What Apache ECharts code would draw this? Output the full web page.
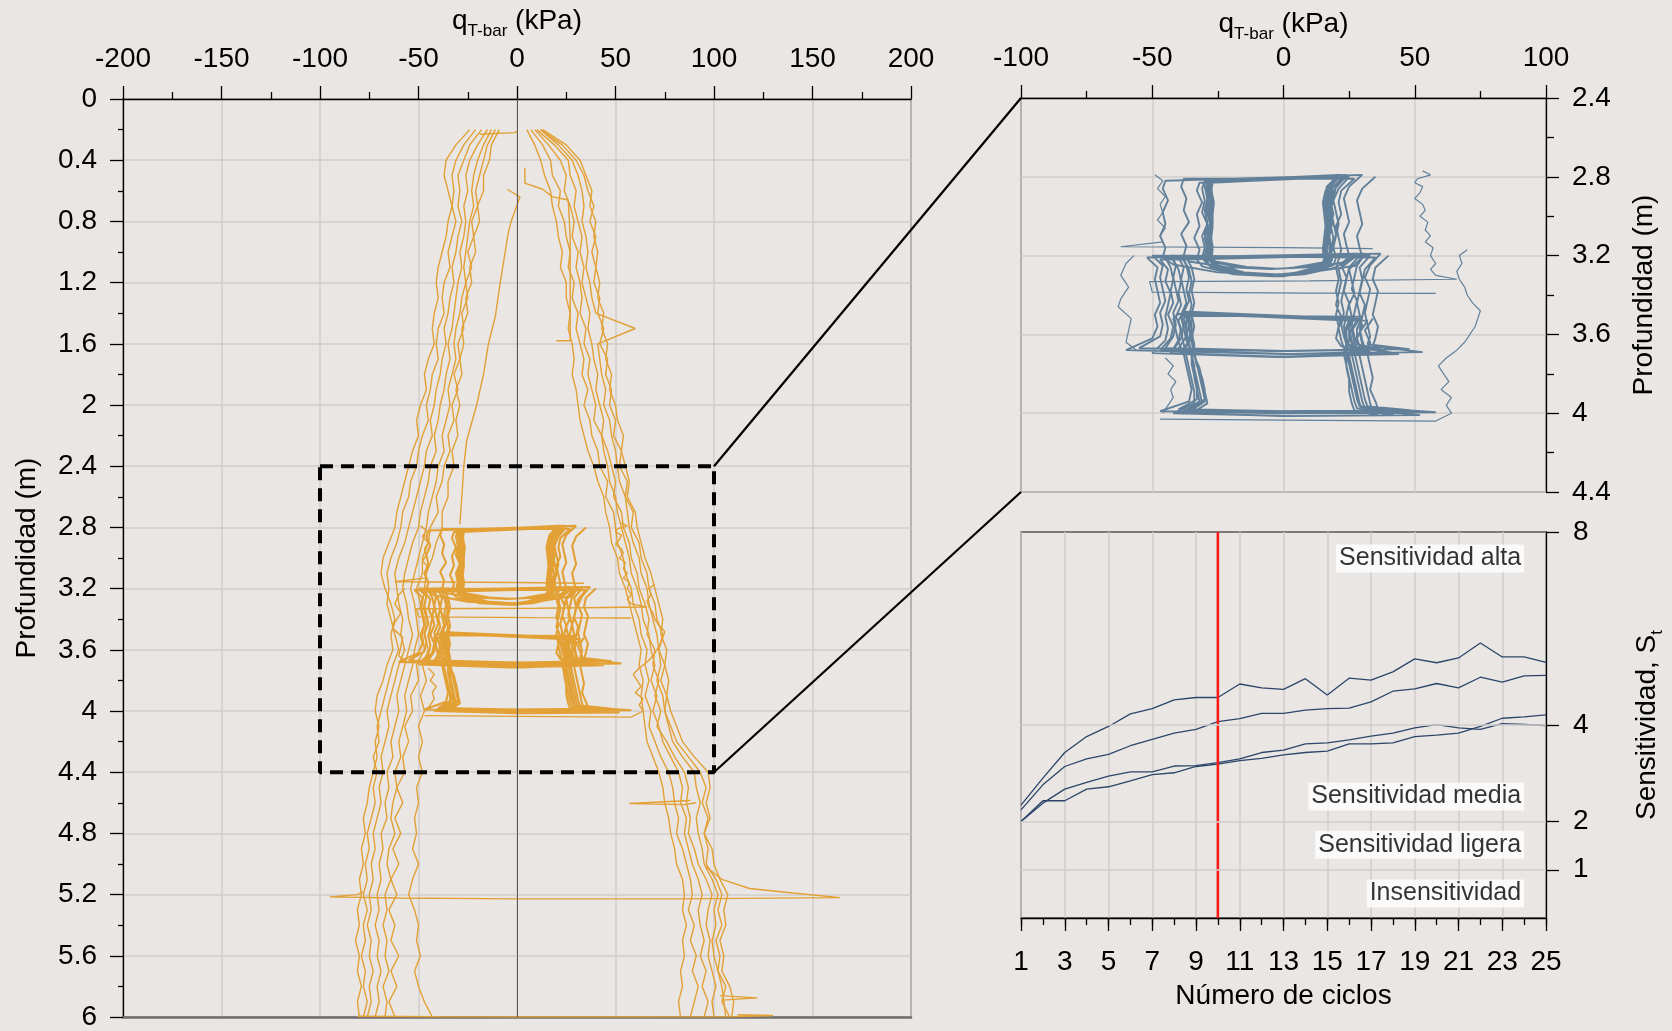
<!DOCTYPE html>
<html><head><meta charset="utf-8">
<script src="https://cdn.jsdelivr.net/npm/echarts/dist/echarts.min.js"></script>
<style>html,body{margin:0;padding:0;background:#e9e6e3;}#chart{width:1672px;height:1031px;}</style>
</head><body><div id="chart"></div>
<script>
// ---------------- DATA ----------------
// Depth grid (m) for the full T-bar profiles
const depthGrid = [0.2,0.3,0.4,0.5,0.6,0.7,0.8,0.9,1.0,1.1,1.2,1.3,1.4,1.5,1.6,1.7,1.8,1.9,2.0,2.1,2.2,2.3,2.4,2.5,2.6,2.7,2.8,2.9,3.0,3.1,3.2,3.3,3.4,3.5,3.6,3.7,3.8,3.9,4.0,4.1,4.2,4.3,4.4,4.5,4.6,4.7,4.8,4.9,5.0,5.1,5.2,5.3,5.4,5.5,5.6,5.7,5.8,5.9,6.0];
// Penetration profiles (q, kPa)
const penR1 = [5,9,12,14,17,18,20,21,23,22, 25,25,27,26,28,29,28,30,31,32, 34,36,39,41,44,45,47,48,51,52, 55,57,59,61,63,62,64,63,64,65, 66,69,72,74,75,77,78,80,81,84, 85,84,86,84,85,83,84,82,83];
const penR2 = [7,13,17,18,22,21,24,25,27,26, 29,28,31,30,32,34,33,36,34,37, 38,41,42,46,45,49,50,51,54,55, 58,59,62,63,66,65,67,65,68,67, 70,73,77,79,80,82,81,84,86,88, 89,87,90,88,91,89,92,90,88];
const penR3 = [9,16,22,25,24,27,29,28,31,30, 32,33,32,35,34,37,36,38,40,39, 43,44,46,47,50,51,53,55,57,58, 61,63,64,67,68,70,68,71,69,72, 74,78,82,84,83,86,85,87,89,92, 94,92,93,95,93,96,94,97,95];
const penR4 = [10,19,26,27,30,29,31,33,32,34, 33,35,37,36,38,39,41,40,42,44, 43,46,48,50,49,53,54,57,58,61, 62,65,67,66,70,69,72,70,73,71, 76,80,85,87,86,88,87,90,92,96, 99,97,96,98,97,99,101,99,100];
const penR5 = [12,21,28,31,33,34,33,35,36,35, 37,38,40,60,41,42,43,45,44,47, 48,50,51,52,55,56,57,59,62,63, 66,67,69,71,72,73,71,74,75,77, 79,84,90,91,93,91,92,94,95,99, 102,100,101,99,100,102,104,105,106];
const penR6 = [12,23,30,34,36,39,37,40,38,40, 39,42,41,44,42,46,45,48,47,50, 49,53,52,56,55,59,58,62,63,66, 67,70,71,74,72,75,73,76,75,78, 81,87,93,96,94,97,95,97,96,101, 104,102,104,101,103,102,106,104,108];
const penR7 = [13,25,32,35,38,37,40,39,41,40, 42,41,44,43,46,45,48,47,50,51, 54,53,55,57,56,60,61,63,65,68, 70,72,74,73,76,75,77,76,78,81, 84,90,97,98,96,98,95,99,100,103, 107,105,106,103,105,104,108,110,109];
// Extraction profiles (q, kPa)
const extL1 = [-24,-31,-36,-37,-35,-33,-35,-36,-38,-40, -41,-40,-42,-43,-42,-45,-47,-46,-49,-51, -50,-53,-55,-57,-59,-61,-62,-65,-68,-69, -67,-64,-62,-64,-63,-66,-68,-71,-72,-70, -72,-71,-73,-75,-76,-78,-77,-79,-78,-80, -79,-81,-80,-82,-80,-81,-79,-81,-80];
const extL2 = [-21,-27,-31,-33,-32,-33,-31,-33,-35,-34, -37,-38,-37,-40,-41,-40,-43,-44,-46,-45, -48,-50,-51,-54,-55,-58,-59,-61,-64,-66, -65,-66,-64,-62,-60,-63,-65,-67,-69,-71, -70,-73,-71,-73,-72,-74,-76,-75,-77,-76, -78,-76,-78,-77,-79,-77,-78,-76,-78];
const extL3 = [-18,-24,-27,-30,-29,-30,-28,-30,-31,-33, -32,-34,-35,-37,-36,-38,-39,-41,-42,-44, -43,-46,-47,-49,-51,-53,-55,-57,-60,-62, -61,-60,-58,-59,-57,-60,-62,-64,-66,-65, -67,-69,-68,-70,-69,-71,-73,-72,-74,-73, -75,-74,-76,-74,-75,-73,-75,-74,-76];
const extL4 = [-15,-20,-24,-26,-25,-27,-26,-27,-29,-28, -30,-31,-32,-33,-35,-34,-36,-37,-39,-40, -42,-41,-44,-45,-47,-49,-50,-53,-55,-57, -58,-56,-55,-53,-55,-57,-59,-61,-60,-62, -64,-63,-66,-65,-67,-66,-69,-68,-70,-69, -71,-70,-72,-70,-71,-69,-71,-70,-72];
const extL5 = [-13,-17,-20,-22,-23,-22,-24,-25,-26,-27, -26,-28,-29,-31,-32,-31,-33,-35,-34,-36, -38,-37,-40,-41,-43,-45,-46,-48,-50,-52, -54,-52,-51,-50,-52,-53,-55,-57,-56,-58, -60,-59,-62,-61,-63,-64,-62,-65,-66,-64, -67,-66,-68,-66,-67,-65,-68,-66,-67];
const extL6 = [-11,-15,-17,-19,-21,-20,-23,-22,-25,-23, -26,-25,-28,-27,-30,-29,-32,-30,-33,-32, -35,-34,-37,-38,-41,-40,-44,-45,-48,-48, -51,-49,-47,-48,-47,-51,-50,-54,-53,-57, -55,-58,-57,-61,-58,-62,-59,-63,-60,-64, -61,-65,-62,-64,-60,-64,-61,-65,-62];
const extL7 = [-9,-13,-14,-17,-17,-20,-19,-22,-21,-24, -23,-26,-25,-28,-27,-29,-28,-31,-29,-31, -30,-33,-32,-35,-35,-38,-38,-41,-43,-46, -47,-48,-46,-47,-45,-48,-46,-49,-47,-50, -48,-50,-48,-51,-50,-52,-51,-53,-50,-53, -55,-52,-50,-51,-49,-52,-50,-47,-43];
// Partial / special traces [q, depth]
const extInner = [[-5,0.59],[1.5,0.64],[-1,0.73],[-3,0.8],[-4.5,0.88],[-6,1.0],[-8.5,1.2],[-11,1.42],[-14.5,1.6],[-17,1.8],[-20.5,2.0],[-25.5,2.23],[-27,2.4],[-28,2.6],[-29,2.78]];
const penPartial = [[4,0.45],[4,0.55],[13,0.59],[18,0.64],[26,0.66],[27,0.9],[27,1.2],[27,1.5],[27,1.58],[20,1.58]];
const topLink = [[-19,0.23],[-1,0.22],[0,0.21]];
const spike52 = [[96,5.02],[104,5.1],[118,5.16],[140,5.19],[164,5.22],[80,5.228],[0,5.228],[-60,5.222],[-95,5.215],[-81,5.2],[-78,5.18]];
const bottom60 = [[-81,5.995],[-40,5.998],[0,6.0],[60,6.0],[110,5.998],[130,5.99],[112,5.985]];
const hook46 = [[88,4.585],[57,4.605],[85,4.612],[91,4.6]];
const kink59 = [[103,5.86],[122,5.875],[104,5.89]];
// Cyclic test: depth paths and q per cycle
const upperDepthsA = [2.80,2.86,2.92,2.98,3.04,3.10,3.16,3.21, 3.25,3.285,3.297,3.285,3.245, 3.21,3.16,3.10,3.04,2.98,2.92,2.86, 2.82];
const upperDepthsB = [2.79,2.85,2.91,2.97,3.03,3.09,3.15,3.20, 3.235,3.26,3.268,3.258,3.23, 3.20,3.15,3.09,3.03,2.97,2.91,2.85, 2.81];
const upperDepthsC = [2.81,2.87,2.93,2.99,3.05,3.11,3.17,3.22, 3.26,3.295,3.305,3.295,3.255, 3.22,3.17,3.11,3.05,2.99,2.93,2.87, 2.83];
const upperPathIdx = [0,1,2,0,1,2,0,1,2,0,1,2];
const upperLoops = [
 [35,30,28,29,30,28,29,30, 28,10,-5,-25,-42, -46,-45,-47,-45,-46,-44,-46, -45],
 [30,25,23,24,25,23,24,25, 23,9,-5,-22,-36, -38,-37,-39,-36,-38,-37,-39, -38],
 [27,22,21,22,20,21,22,21, 20,8,-4,-19,-31, -33,-32,-34,-32,-33,-31,-33, -32],
 [25,21,19,20,21,20,19,20, 19,8,-4,-18,-29, -31,-30,-31,-29,-31,-30,-31, -30],
 [24,20,19,18,19,20,19,18, 17,7,-4,-17,-28, -30,-29,-30,-29,-30,-29,-30, -30],
 [23,19,18,19,18,19,18,18.5, 17,7,-3,-17,-28, -29.5,-29,-30,-29,-29.5,-29,-29.5, -29],
 [23,18.5,17.5,18,18.5,17.5,18,18, 17,6,-3,-16,-27, -29,-28.5,-29,-28,-29,-28.5,-29, -29],
 [22,18,17,17.5,18,17,17.5,17.5, 16,6,-2,-16,-27, -28.5,-28,-29,-28,-28.5,-28,-28.5, -28.5],
 [22,17.5,16.5,17,17.5,17,16.5,17, 16,5,-2,-15,-26, -28,-27.5,-28.5,-27.5,-28,-27.5,-28, -28],
 [21,17,16,16.5,17,16.5,16,16.5, 15,5,-1,-15,-26, -28,-27.5,-28,-27,-28,-27.5,-28, -27.5],
 [21,16.5,15.5,16,16.5,16,15.5,16, 15,4,-1,-14,-26, -27.5,-27,-28,-27,-27.5,-27,-27.5, -27.5],
 [20,16,15,15.5,16,15.5,15,15.5, 14,4,0,-14,-25, -27.5,-27,-27.5,-27,-27,-26.5,-27.5, -27]
];
const midDepthsA = [3.20,3.26,3.32,3.38,3.44,3.50,3.56,3.62,3.66,3.69,3.70,3.68,3.62,3.56,3.50,3.44,3.38,3.32,3.26,3.21];
const midDepthsB = [3.19,3.25,3.31,3.37,3.43,3.49,3.55,3.61,3.65,3.675,3.685,3.67,3.61,3.55,3.49,3.43,3.37,3.31,3.25,3.20];
const midDepthsC = [3.21,3.27,3.33,3.39,3.45,3.51,3.57,3.63,3.67,3.70,3.715,3.695,3.63,3.57,3.51,3.45,3.39,3.33,3.27,3.22];
const midPathIdx = [0,1,2,0,1,2,0,1,2,0];
const midLoops = [
 [40,35,34,36,35,34,36,35,34, 53,0,-60, -50,-48,-49,-47,-48,-49,-48, -52],
 [37,33,31,33,32,31,32,33,32, 48,3,-55, -47,-46,-47,-45,-46,-47,-46, -50],
 [35,31,30,29,31,30,29,30,31, 44,-3,-50, -45,-44,-45,-44,-43,-45,-44, -47],
 [33,29,30,29,28,29,30,28,29, 40,5,-47, -43,-42,-44,-42,-43,-42,-43, -45],
 [31,28,27,26,28,27,26,27,28, 37,-5,-45, -42,-41,-42,-40,-41,-42,-41, -43],
 [30,25,26,27,25,26,25,26,27, 35,2,-43, -40,-39,-41,-39,-40,-39,-40, -42],
 [29,25,24,23,25,24,23,24,25, 33,-2,-42, -39,-38,-39,-37,-38,-39,-38, -40],
 [28,22,24,23,22,23,22,23,24, 31,4,-40, -37,-36,-38,-36,-37,-36,-37, -39],
 [27,21,22,21,20,22,21,22,23, 30,-4,-39, -36,-35,-36,-35,-36,-35,-36, -38],
 [26,20,21,20,21,20,21,20,22, 29,1,-38, -35,-34,-35,-34,-35,-34,-35, -37]
];
const lowDepthsA = [3.52,3.58,3.64,3.70,3.76,3.82,3.88,3.94,3.975,3.995,4.0,3.99,3.94,3.88,3.82,3.76,3.70,3.64,3.58,3.52,3.495];
const lowDepthsB = [3.53,3.59,3.65,3.71,3.77,3.83,3.89,3.95,3.985,4.01,4.015,4.0,3.95,3.89,3.83,3.77,3.71,3.65,3.59,3.53,3.505];
const lowDepthsC = [3.51,3.57,3.63,3.69,3.75,3.81,3.87,3.93,3.965,3.985,3.99,3.98,3.93,3.87,3.81,3.75,3.69,3.63,3.57,3.51,3.485];
const lowPathIdx = [0,1,2,0,1,2,0,1];
const lowLoops = [
 [34,31,33,32,33,34,33,35,36, 58,5,-47, -36,-35,-36,-37,-38,-40,-41,-42, -40],
 [32,29,30,29,30,31,32,33,34, 52,3,-42, -34,-34,-35,-36,-37,-38,-39,-40, -39],
 [30,28,28,27,28,29,30,31,32, 48,0,-40, -33,-33,-34,-35,-35,-37,-38,-39, -38],
 [29,26,27,26,27,28,29,30,31, 45,-2,-38, -32,-33,-34,-34,-35,-36,-37,-38, -37],
 [28,25,26,25,26,27,28,29,30, 42,4,-37, -31,-32,-33,-34,-35,-36,-37,-37, -36],
 [27,25,25,24,25,26,27,28,29, 40,-4,-36, -30,-31,-32,-33,-34,-35,-36,-36, -36],
 [26,24,24,23,24,25,26,27,28, 38,2,-36, -30,-30,-31,-33,-34,-35,-35,-36, -35],
 [25,23,24,24,24,25,25,26,27, 36,-1,-35, -29,-30,-31,-32,-34,-34,-35,-35, -35]
];
const cycPenA = [[53,2.77],[56,2.79],[51,2.81],[50,2.83],[53,2.85],[52,2.88],[50,2.91],[53,2.94],[54,2.97],[52,3.0],[55,3.03],[54,3.07],[56,3.1],[54,3.13],[57,3.16],[56,3.2],[58,3.24],[56,3.27],[58,3.3],[66,3.32],[10,3.328],[-51,3.332],[-50,3.385],[10,3.39],[58,3.392]];
const cycPenB = [[70,3.17],[67,3.2],[68,3.24],[66,3.28],[67,3.32],[69,3.36],[70,3.4],[72,3.44],[75,3.48],[74,3.52],[73,3.56],[71,3.6],[69,3.64],[66,3.68],[62,3.72],[59,3.76],[61,3.8],[63,3.84],[60,3.88],[64,3.92],[62,3.96],[64,4.0],[58,4.04],[0,4.035],[-47,4.03]];
const cycExtA = [[-49,2.79],[-46,2.82],[-48,2.86],[-45,2.9],[-47,2.94],[-46,2.98],[-48,3.02],[-45,3.06],[-47,3.1],[-46,3.13],[-62,3.155],[0,3.16],[34,3.165]];
const cycExtB = [[-57,3.2],[-60,3.24],[-62,3.3],[-59,3.36],[-62,3.42],[-63,3.46],[-58,3.52],[-59,3.58],[-60,3.64],[-56,3.68]];
const cycExtC = [[-45,3.72],[-42,3.76],[-44,3.8],[-41,3.84],[-43,3.88],[-42,3.92],[-44,3.96],[-46,4.0]];
// Zoom window of the detail panel
const zoomWindowQ = [-100, 100];
const zoomWindowDepth = [2.4, 4.4];
// Sensitivity vs number of cycles
const cycles = ['1','2','3','4','5','6','7','8','9','10','11','12','13','14','15','16','17','18','19','20','21','22','23','24','25'];
const stA = [2.34,2.90,3.43,3.76,3.97,4.23,4.34,4.52,4.57,4.57,4.85,4.77,4.74,4.96,4.62,4.97,4.93,5.10,5.37,5.29,5.39,5.70,5.41,5.41,5.30];
const stB = [2.24,2.76,3.14,3.30,3.39,3.57,3.70,3.83,3.91,4.07,4.13,4.24,4.24,4.31,4.34,4.35,4.48,4.70,4.75,4.86,4.77,4.99,4.89,5.02,5.03];
const stC = [2.00,2.43,2.43,2.67,2.72,2.84,2.97,3.01,3.14,3.19,3.26,3.31,3.38,3.43,3.46,3.61,3.61,3.63,3.76,3.79,3.83,3.97,4.14,4.17,4.21];
const stD = [2.00,2.38,2.67,2.81,2.94,3.03,3.03,3.15,3.16,3.22,3.30,3.43,3.48,3.61,3.63,3.69,3.77,3.83,3.94,4.01,3.94,3.91,4.03,4.01,3.99];
const sensTicks = [1,2,4,8];
const sensRange = [0, 8];
const redLineCycle = '10';
const zoneLabels = [['24',7.45,'Sensitividad alta'],['24',2.52,'Sensitividad media'],['24',1.52,'Sensitividad ligera'],['24',0.51,'Insensitividad']];

// ---------------- CHART ----------------
const FONT = "'Liberation Sans', Arial, sans-serif";
const ORANGE = '#e2a035';
const BLUE = '#62809a';
const NAVY = '#2c456a';
const GRIDC = '#d0cdcb';

const profile = qs => qs.map((q, i) => [q, depthGrid[i]]);
function loops(list, paths, idx) {
  const out = [];
  list.forEach((qs, k) => { const dp = paths[idx[k]]; qs.forEach((q, i) => out.push([q, dp[i]])); });
  return out;
}
const upperCyc = loops(upperLoops, [upperDepthsA, upperDepthsB, upperDepthsC], upperPathIdx);
const midCyc = loops(midLoops, [midDepthsA, midDepthsB, midDepthsC], midPathIdx);
const lowCyc = loops(lowLoops, [lowDepthsA, lowDepthsB, lowDepthsC], lowPathIdx);
const cycLoopSets = [upperCyc, midCyc, lowCyc];
const cycTraceSets = [cycPenA, cycPenB, cycExtA, cycExtB, cycExtC];

const series = [];
function addLine(data, color, width, xi, yi, z) {
  series.push({type:'line', xAxisIndex:xi, yAxisIndex:yi, data, symbol:'none', showSymbol:false,
    silent:true, animation:false, z:z||3, lineStyle:{color, width}});
}
// Zero reference line in main panel
series.push({type:'line', xAxisIndex:0, yAxisIndex:0, data:[], silent:true, z:2,
  markLine:{silent:true, symbol:['none','none'], label:{show:false}, animation:false,
    lineStyle:{color:'#5a5a5a', width:1, type:'solid'}, data:[{xAxis:0}]}});
[penR1,penR2,penR3,penR4,penR5,penR6,penR7,extL1,extL2,extL3,extL4,extL5,extL6,extL7].forEach(a => addLine(profile(a), ORANGE, 1.4, 0, 0));
[extInner, penPartial, topLink, spike52, bottom60, hook46, kink59].forEach(a => addLine(a, ORANGE, 1.4, 0, 0));
cycTraceSets.forEach(a => addLine(a, ORANGE, 1.4, 0, 0));
cycLoopSets.forEach(a => addLine(a, ORANGE, 2.1, 0, 0));
// Dashed zoom window
const q0 = zoomWindowQ[0], q1 = zoomWindowQ[1], d0 = zoomWindowDepth[0], d1 = zoomWindowDepth[1];
series.push({type:'line', xAxisIndex:0, yAxisIndex:0, data:[[q0,d0],[q1,d0],[q1,d1],[q0,d1],[q0,d0]], symbol:'none',
  silent:true, z:6, lineStyle:{color:'#000', width:4, type:[13,8]}});
// Detail panel
cycTraceSets.forEach(a => addLine(a, BLUE, 1.2, 2, 1));
cycLoopSets.forEach(a => addLine(a, BLUE, 1.9, 2, 1));
// Sensitivity panel
series.push({type:'line', xAxisIndex:3, yAxisIndex:2, data:[], silent:true, z:1,
  markLine:{silent:true, symbol:['none','none'], label:{show:false}, animation:false,
    lineStyle:{color:GRIDC, width:1.5, type:'solid'}, data:sensTicks.slice(0,3).map(v => ({yAxis:v}))}});
[stA, stB, stC, stD].forEach(a => series.push({type:'line', xAxisIndex:3, yAxisIndex:2, data:a, symbol:'none',
  showSymbol:false, silent:true, z:3, lineStyle:{color:NAVY, width:1.3}}));
series.push({type:'line', xAxisIndex:3, yAxisIndex:2, data:[[redLineCycle, sensRange[0]],[redLineCycle, sensRange[1]]],
  symbol:'none', silent:true, z:4, lineStyle:{color:'#ff1a1a', width:2.6}});
series.push({type:'scatter', xAxisIndex:3, yAxisIndex:2, symbolSize:0, silent:true, z:6,
  data: zoneLabels.map(z => ({value:[z[0], z[1]], label:{formatter:z[2]}})),
  label:{show:true, position:'left', distance:0, fontSize:25, fontFamily:FONT, color:'#000',
    backgroundColor:'#ffffff', padding:[1,3,0,3], lineHeight:27}});

const lab = {fontSize:28, fontFamily:FONT, color:'#000'};
const blk = {color:'#000', width:1.3};
const depthFmt = v => String(parseFloat(v.toFixed(1)));
const richQ = {
  m:{fontSize:28, fontFamily:FONT, color:'#000', lineHeight:38, verticalAlign:'middle'},
  s:{fontSize:17, fontFamily:FONT, color:'#000', verticalAlign:'bottom'}
};
const qName = '{m|q}{s|T-bar}{m| (kPa)}';

const option = {
  backgroundColor:'#e9e6e3',
  animation:false,
  textStyle:{fontFamily:FONT},
  grid:[
    {left:123, top:99, width:788, height:920, show:true, borderColor:'#111', borderWidth:1.2, backgroundColor:'transparent'},
    {left:1021, top:98, width:525, height:394, show:true, borderColor:'#111', borderWidth:1.2, backgroundColor:'transparent'},
    {left:1021, top:532, width:525, height:386, show:true, borderColor:'#111', borderWidth:1.2, backgroundColor:'transparent'}
  ],
  xAxis:[
    {gridIndex:0, type:'value', position:'top', min:-200, max:200, interval:50,
      axisLine:{show:true, onZero:false, lineStyle:blk}, axisTick:{show:true, length:13, lineStyle:blk},
      minorTick:{show:true, splitNumber:2, length:7, lineStyle:blk},
      axisLabel:Object.assign({margin:26}, lab), splitLine:{show:true, lineStyle:{color:GRIDC, width:1.5}},
      name:qName, nameLocation:'middle', nameGap:55, nameTextStyle:{rich:richQ}},
    {gridIndex:0, type:'value', position:'bottom', min:-200, max:200,
      axisLine:{show:true, onZero:false, lineStyle:{color:'#6e6e6e', width:2.5}}, axisTick:{show:false},
      axisLabel:{show:false}, splitLine:{show:false}},
    {gridIndex:1, type:'value', position:'top', min:-100, max:100, interval:50,
      axisLine:{show:true, onZero:false, lineStyle:blk}, axisTick:{show:true, length:13, lineStyle:blk},
      minorTick:{show:true, splitNumber:2, length:7, lineStyle:blk},
      axisLabel:Object.assign({margin:26}, lab), splitLine:{show:true, lineStyle:{color:GRIDC, width:1.5}},
      name:qName, nameLocation:'middle', nameGap:55, nameTextStyle:{rich:richQ}},
    {gridIndex:2, type:'category', data:cycles, boundaryGap:false, position:'bottom',
      axisLine:{show:true, onZero:false, lineStyle:blk},
      axisTick:{show:true, length:13, interval:(i) => i % 2 === 0, lineStyle:blk},
      axisLabel:Object.assign({margin:30, interval:(i) => i % 2 === 0, hideOverlap:false}, lab),
      splitLine:{show:true, interval:(i) => i % 2 === 0, lineStyle:{color:GRIDC, width:1.5}},
      name:'Número de ciclos', nameLocation:'middle', nameGap:64, nameTextStyle:lab},
    {gridIndex:2, type:'category', data:cycles, boundaryGap:false, position:'bottom',
      axisLine:{show:false}, axisTick:{show:true, length:7, interval:0, lineStyle:blk},
      axisLabel:{show:false}, splitLine:{show:false}}
  ],
  yAxis:[
    {gridIndex:0, type:'value', position:'left', inverse:true, min:0, max:6, interval:0.4,
      axisLine:{show:true, onZero:false, lineStyle:blk}, axisTick:{show:true, length:13, lineStyle:blk},
      minorTick:{show:true, splitNumber:2, length:5, lineStyle:blk},
      axisLabel:Object.assign({margin:26, formatter:depthFmt}, lab),
      splitLine:{show:true, lineStyle:{color:GRIDC, width:1.5}},
      name:'Profundidad (m)', nameLocation:'middle', nameRotate:90, nameGap:82, nameTextStyle:lab},
    {gridIndex:1, type:'value', position:'right', inverse:true, min:2.4, max:4.4, interval:0.4,
      axisLine:{show:true, onZero:false, lineStyle:blk}, axisTick:{show:true, length:13, lineStyle:blk},
      minorTick:{show:true, splitNumber:2, length:8, lineStyle:blk},
      axisLabel:Object.assign({margin:26, formatter:depthFmt}, lab),
      splitLine:{show:true, lineStyle:{color:GRIDC, width:1.5}},
      name:'Profundidad (m)', nameLocation:'middle', nameRotate:90, nameGap:84, nameTextStyle:lab},
    {gridIndex:2, type:'value', position:'right', min:sensRange[0], max:sensRange[1], interval:1,
      axisLine:{show:true, onZero:false, lineStyle:blk},
      axisTick:{show:true, length:13, lineStyle:blk, customValues:sensTicks},
      axisLabel:Object.assign({margin:27, customValues:sensTicks}, lab),
      splitLine:{show:false},
      name:'{n|Sensitividad, S}{s|t}', nameLocation:'middle', nameRotate:90, nameGap:82,
      nameTextStyle:{rich:{n:{fontSize:28, fontFamily:FONT, color:'#000', lineHeight:38, verticalAlign:'middle'},
        s:{fontSize:17, fontFamily:FONT, color:'#000', verticalAlign:'bottom'}}}}
  ],
  series
};
const chart = echarts.init(document.getElementById('chart'), null, {width:1672, height:1031});
chart.setOption(option);
const a0 = chart.convertToPixel({xAxisIndex:0, yAxisIndex:0}, [q1, d0]);
const b0 = chart.convertToPixel({xAxisIndex:0, yAxisIndex:0}, [q1, d1]);
const a1 = chart.convertToPixel({xAxisIndex:2, yAxisIndex:1}, [q0, d0]);
const b1 = chart.convertToPixel({xAxisIndex:2, yAxisIndex:1}, [q0, d1]);
chart.setOption({graphic:[
  {type:'line', silent:true, z:10, shape:{x1:a0[0], y1:a0[1], x2:a1[0], y2:a1[1]}, style:{stroke:'#000', lineWidth:2.2}},
  {type:'line', silent:true, z:10, shape:{x1:b0[0], y1:b0[1], x2:b1[0], y2:b1[1]}, style:{stroke:'#000', lineWidth:2.2}}
]});
</script></body></html>
